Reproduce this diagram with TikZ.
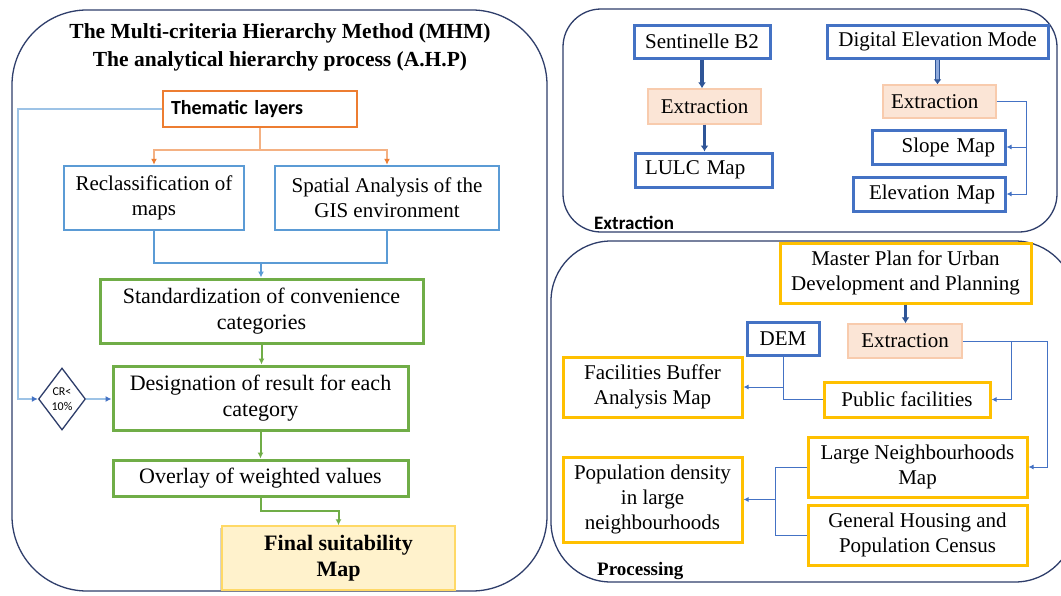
\documentclass[tikz,border=0pt]{standalone}
\usepackage{fontspec}
\setmainfont{Liberation Serif}
\newfontfamily\calibri{Carlito}
\usetikzlibrary{arrows.meta,shapes.geometric,shadows}
\definecolor{navy}{HTML}{2F3E6B}
\definecolor{lblue}{HTML}{5B9BD5}
\definecolor{dblue}{HTML}{4472C4}
\definecolor{grn}{HTML}{70AD47}
\definecolor{orng}{HTML}{ED7D31}
\definecolor{orl}{HTML}{F4B183}
\definecolor{gold}{HTML}{FFC000}
\definecolor{peach}{HTML}{FBE5D6}
\definecolor{peachd}{HTML}{F8CBAD}
\definecolor{fyel}{HTML}{FFF2CC}
\definecolor{fyelD}{HTML}{FFD966}
\definecolor{darr}{HTML}{2F5597}
\definecolor{thinlb}{HTML}{9DC3E6}
\definecolor{hollowfill}{HTML}{8FAADC}
\begin{document}
\begin{tikzpicture}[x=1pt,y=-1pt,
  panel/.style={draw=navy, line width=1.3pt},
  txt/.style={font=\fontsize{21}{25}\selectfont, align=center, inner sep=1pt},
  bluebox/.style={txt, draw=lblue, line width=2.5pt},
  dbox/.style={txt, draw=dblue, line width=3pt},
  gbox/.style={draw=grn, line width=3pt, inner sep=1pt, align=center, font=\fontsize{22}{26}\selectfont},
  ybox/.style={txt, draw=gold, line width=3pt},
  pbox/.style={txt, draw=peachd, fill=peach, line width=1.3pt},
  tipo/.style={-{Latex[length=6pt,width=6pt]}},
  tipb/.style={-{Latex[length=5pt,width=5pt]}},
  orline/.style={draw=orl, line width=1.5pt},
  lbline/.style={draw=lblue, line width=2.5pt},
  gline/.style={draw=grn, line width=2pt},
  thinb/.style={draw=dblue, line width=1pt},
  thinlbl/.style={draw=thinlb, line width=1.2pt},
  darrow/.style={draw=darr, line width=3.5pt, -{Latex[length=6pt,width=8pt]}},
  hollow/.style={draw=darr, line width=0.8pt, double=hollowfill, double distance=2.5pt, -{Latex[length=5pt,width=8pt]}}
]
\clip (0,0) rectangle (1061,595);
\fill[white] (0,0) rectangle (1061,595);

% panels
\draw[panel, rounded corners=75pt] (12,10) rectangle (547,591);
\draw[panel, rounded corners=38pt] (563,9) rectangle (1057,232);
\draw[panel, rounded corners=60pt] (551,241) rectangle (1075,582);

% ---------- left panel ----------
\node[font=\bfseries\fontsize{21.5}{28}\selectfont, align=center, inner sep=0] (title) at (280,47)
  {The Multi-criteria Hierarchy Method (MHM)\\The analytical hierarchy process (A.H.P)};
\node[draw=orng, line width=2pt, minimum width=194, minimum height=36, text width=178, align=left,
  inner xsep=8, inner ysep=1, font=\calibri\bfseries\fontsize{20}{24}\selectfont] (them) at (260,109) {Thematic layers};
\node[bluebox, minimum width=180, minimum height=64] (recl) at (154,198) {Reclassification of\\maps};
\node[bluebox, minimum width=224, minimum height=64] (spat) at (387,198) {Spatial Analysis of the\\GIS environment};
\node[gbox, minimum width=323, minimum height=64] (stand) at (261.5,311) {Standardization of convenience\\categories};
\node[gbox, minimum width=295, minimum height=64] (desig) at (260.5,398) {Designation of result for each\\category};
\node[gbox, minimum width=295, minimum height=36] (over) at (260.5,478) {Overlay of weighted values};
\node[fill=fyel, draw=fyelD, line width=1.5pt, minimum width=233, minimum height=64, inner sep=1pt,
  font=\bfseries\fontsize{22}{26}\selectfont, align=center,
  drop shadow={opacity=0.35, shadow xshift=-2pt, shadow yshift=-2pt}] (final) at (338.5,558) {Final suitability\\Map};
\node[diamond, draw=navy, line width=1.3pt, minimum width=47, minimum height=62, inner sep=0, aspect=0.8,
  font=\calibri\fontsize{12}{15}\selectfont, align=center] (cr) at (62,399) {CR<\\10\%};

\coordinate (o1) at (260,150);
\draw[orline] (them.south) -- (o1);
\draw[orline, -{Latex[length=6pt,width=6pt,color=orng]}] (o1) -| (recl.north);
\draw[orline, -{Latex[length=6pt,width=6pt,color=orng]}] (o1) -| (spat.north);
\coordinate (b1) at (261,263);
\draw[lbline] (recl.south) |- (b1) -| (spat.south);
\draw[lbline, tipo] (b1) -- (b1 |- stand.north);
\draw[gline, tipo] (stand.south) -- (stand.south |- desig.north);
\draw[gline, tipo] (desig.south) -- (over.north);
\coordinate (g1) at (260.5,511);
\draw[gline, tipo] (over.south) -- (g1) -| (final.north);
\coordinate (l1) at (18,399);
\draw[thinlbl, -{Latex[length=6pt,width=6pt,color=dblue]}] (them.west) -| (l1) -- (cr.west);
\draw[thinlbl, -{Latex[length=6pt,width=6pt,color=dblue]}] (cr.east) -- (cr.east -| desig.west);

% ---------- top right panel ----------
\node[dbox, minimum width=136, minimum height=33] (sent) at (702,41.5) {Sentinelle B2};
\node[pbox, minimum width=113, minimum height=35] (ext1) at (704.5,106.5) {Extraction};
\node[dbox, minimum width=137, minimum height=34, text width=117, inner xsep=10, align=left] (lulc) at (703.5,170) {LULC Map};
\node[dbox, minimum width=221, minimum height=33] (dem1) at (937.5,41.5) {Digital Elevation Mode};
\node[pbox, minimum width=113, minimum height=33, text width=97, inner xsep=8, align=left] (ext2) at (939.5,101.5) {Extraction};
\node[dbox, minimum width=133, minimum height=34, text width=113, inner xsep=10, align=right] (slope) at (938.5,147) {Slope Map};
\node[dbox, minimum width=152, minimum height=34, text width=132, inner xsep=10, align=right] (elev) at (929,194) {Elevation Map};
\node[anchor=west, font=\calibri\bfseries\fontsize{19}{22}\selectfont, inner sep=0] (lbl1) at (594,223) {Extraction};

\draw[darrow] (sent.south) -- (sent.south |- ext1.north);
\draw[darrow] (ext1.south) -- (ext1.south |- lulc.north);
\draw[hollow] (dem1.south) -- (dem1.south |- ext2.north);
\coordinate (r1) at (1026,101.5);
\draw[thinb, tipb] (ext2.east) -- (r1) |- (elev.east);
\draw[thinb, tipb] (r1 |- slope.east) -- (slope.east);

% ---------- bottom right panel ----------
\node[ybox, minimum width=251, minimum height=60] (master) at (905.5,273) {Master Plan for Urban\\Development and Planning};
\node[pbox, minimum width=114, minimum height=34] (ext3) at (905,341) {Extraction};
\node[dbox, minimum width=72, minimum height=33] (dem) at (783,338.5) {DEM};
\node[ybox, minimum width=179, minimum height=60] (facbuf) at (652.5,387) {Facilities Buffer\\Analysis Map};
\node[ybox, minimum width=166, minimum height=35] (pubfac) at (907,399.5) {Public facilities};
\node[ybox, minimum width=219, minimum height=60] (largeN) at (917.5,467) {Large Neighbourhoods\\Map};
\node[ybox, minimum width=219, minimum height=60] (census) at (917.5,535) {General Housing and\\Population Census};
\node[ybox, minimum width=179, minimum height=85] (popdens) at (652.5,499.5) {Population density\\in large\\neighbourhoods};
\node[anchor=west, font=\bfseries\fontsize{19}{22}\selectfont, inner sep=0] (lbl2) at (597,571) {Processing};

\draw[darrow] (master.south) -- (master.south |- ext3.north);
\coordinate (j1) at (1011,341);
\coordinate (j2) at (1047,341);
\draw[thinb, tipb] (ext3.east) -- (j2) |- (largeN.east);
\draw[thinb, tipb] (j1) |- (pubfac.east);
\draw[thinb] (dem.south) |- (pubfac.west);
\draw[thinb, tipb] (dem.south |- facbuf.east) -- (facbuf.east);
\coordinate (j4) at (775,467);
\draw[thinb] (largeN.west) -- (j4) |- (census.west);
\draw[thinb, tipb] (j4 |- popdens.east) -- (popdens.east);
\end{tikzpicture}
\end{document}
